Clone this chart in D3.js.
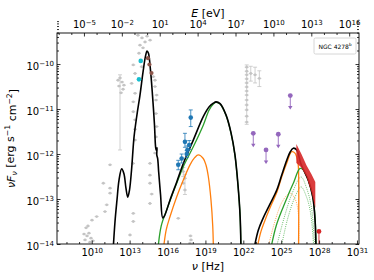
<!DOCTYPE html>
<html>
<head>
<meta charset="utf-8">
<script src="https://cdn.jsdelivr.net/npm/d3@7"></script>
<style>
  body { margin: 0; background: #fff; }
  svg { font-family: "DejaVu Sans", sans-serif; }
</style>
</head>
<body>
<svg id="chart" width="374" height="280"></svg>
<script>
// every value is log10: [log nu (Hz), log nuFnu (erg s^-1 cm^-2)]

// total model, synchrotron + SSC bump
const totalLow = [[11.68,-14.2],[11.84,-13.51],[12.0,-13.02],[12.16,-12.58],[12.37,-12.33],[12.55,-12.44],
  [12.71,-12.76],[12.85,-12.96],[12.99,-12.8],[13.15,-12.36],[13.35,-11.62],[13.58,-11.13],[13.82,-10.69],
  [14.06,-10.18],[14.26,-9.82],[14.38,-9.71],[14.49,-9.76],[14.65,-10.13],[14.81,-10.69],[14.97,-11.36],
  [15.06,-11.85],[15.12,-11.92],[15.17,-11.86],[15.15,-12.02],[15.22,-12.1],[15.3,-12.4],[15.45,-12.91],
  [15.62,-13.42],[15.75,-13.38],[16.2,-13.02],[16.73,-12.62],[17.25,-12.21],[18.04,-11.69],[18.83,-11.17],
  [19.3,-10.95],[19.63,-10.87],[19.84,-10.84],[20.16,-10.88],[20.63,-11.13],[21.03,-11.53],[21.34,-12.02],
  [21.58,-12.69],[21.75,-13.4],[21.82,-14.2]];
// total model, gamma-ray bump
const totalHigh = [[22.79,-14.2],[23.18,-13.7],[23.58,-13.42],[24.1,-13.12],[24.65,-12.8],[25.05,-12.46],
  [25.44,-12.14],[25.7,-11.96],[25.96,-11.87],[26.23,-11.91],[26.55,-12.21],[26.85,-12.4],[27.15,-12.58],
  [27.5,-12.95],[27.68,-13.47],[27.76,-14.2]];

const greenLow = [[15.21,-14.2],[15.5,-13.6],[15.94,-13.24],[16.35,-12.92],[16.73,-12.65],[17.25,-12.28],
  [18.04,-11.84],[18.83,-11.36],[19.3,-11.02],[19.63,-10.89],[19.84,-10.85],[20.16,-10.89],[20.63,-11.14],
  [21.03,-11.54],[21.34,-12.03],[21.58,-12.7],[21.75,-13.4],[21.81,-14.2]];
const orangeLow = [[15.64,-14.2],[15.9,-13.68],[16.2,-13.39],[16.73,-12.95],[17.25,-12.58],[17.78,-12.24],
  [18.15,-12.08],[18.44,-12.02],[18.83,-12.1],[19.05,-12.25],[19.23,-12.5],[19.44,-13.02],[19.58,-13.6],
  [19.64,-14.2]];

const orangeHigh = [[23.01,-14.2],[23.4,-13.72],[23.72,-13.47],[24.2,-13.14],[24.67,-12.84],[25.05,-12.5],
  [25.44,-12.2],[25.83,-11.95],[26.09,-11.98],[26.3,-12.15],[26.36,-12.28],[26.37,-14.2]];
const greenHigh = [[24.11,-14.2],[24.6,-13.6],[25.17,-13.17],[25.6,-12.88],[25.96,-12.65],[26.49,-12.32],
  [26.75,-12.35],[27.02,-12.5],[27.3,-12.72],[27.54,-13.02],[27.7,-13.5],[27.76,-14.2]];
const greenDotA = [[24.51,-14.2],[25.2,-13.45],[25.9,-12.85],[26.57,-12.51],[27.0,-12.75],[27.4,-13.2],[27.68,-14.2]];
const greenDotB = [[24.91,-14.2],[25.5,-13.45],[26.1,-12.95],[26.57,-12.73],[27.0,-12.95],[27.35,-13.35],[27.6,-14.2]];
const orangeDot = [[23.85,-14.2],[24.5,-13.5],[25.1,-13.05],[25.7,-12.87],[26.1,-13.0],[26.35,-13.3],[26.37,-14.2]];

// archival data (grey)
const archival = [[9.47,-13.91],[9.63,-13.82],[9.78,-13.76],[9.55,-13.64],[9.70,-13.6],[9.94,-13.87],[10.1,-13.93],
  [9.39,-13.78],[9.86,-13.96],[10.02,-13.47],[10.39,-13.39],[11.05,-13.28],[11.19,-13.13],[11.45,-12.87],
  [11.45,-12.76],[10.92,-12.65],[11.45,-12.24],
  [12.08,-10.36],[12.24,-10.31],[12.4,-10.4],[12.16,-10.49],[12.48,-10.56],[12.32,-10.64],[12.55,-10.47],
  [13.29,-10.02],[13.43,-10.21],[13.16,-10.43],[13.43,-10.65],[13.29,-10.84],[13.29,-11.06],[13.43,-11.24],
  [13.43,-11.45],[13.43,-11.69],[13.27,-12.21],[13.29,-13.32],[13.29,-13.5],[13.03,-13.8],
  [13.66,-9.36],[13.98,-9.42],[14.22,-9.51],[13.82,-9.58],[14.38,-9.38],[14.06,-9.64],[14.62,-9.47],
  [13.74,-9.76],[13.96,-10.06],
  [14.87,-10.28],[15.01,-10.5],[15.09,-10.8],[15.09,-11.1],[15.14,-11.39],[15.09,-11.62],[15.01,-11.98],
  [15.01,-10.36],[15.14,-10.69],
  [14.61,-12.21],[14.61,-12.47],[14.61,-12.65],[14.75,-12.89],[14.61,-13.1],
  [17.25,-12.39],[17.38,-12.54],[17.25,-12.65],[17.38,-12.8],[16.85,-13.43],[17.82,-13.82],[17.86,-13.91],[17.78,-13.98],
  [22.27,-10.07],[22.27,-10.16],[22.27,-10.24],[22.27,-10.33],[22.27,-10.42],[22.27,-10.51],[22.27,-10.6],
  [22.27,-10.69],[22.27,-10.8],[22.27,-10.91],[22.27,-11.02],[22.27,-11.16],[22.27,-11.29],
  [22.59,-10.21],[22.93,-10.24],[23.27,-10.32]];
// archival error bars: [log nu, low, high]
const archivalBars = [[12.24,-10.24,-11.91],[22.27,-10.02,-11.34],[22.59,-10.05,-10.38],[22.93,-10.07,-10.42],
  [23.27,-10.15,-10.5],[17.25,-12.3,-12.5],[17.38,-12.45,-12.9]];

// simultaneous data
const cyanPts = [[13.88,-9.93],[13.74,-10.34]];
const brownPts = [[14.45,-9.87],[14.57,-10.01],[14.73,-10.2]];
// [log nu, log flux, err low, err high]
const bluePts = [[17.84,-11.19,-11.39,-11.02],[17.38,-11.73,-11.85,-11.54],[17.72,-11.8,-11.9,-11.7],
  [17.57,-11.91,-12.0,-11.82],[17.52,-12.0,-12.08,-11.92],[17.12,-12.1,-12.2,-12.0],[16.85,-12.24,-12.35,-12.14]];
const purpleLimits = [[22.79,-11.54],[23.8,-11.91],[24.77,-11.56],[25.72,-10.7]];
const butterflyNu = [26.2, 26.6, 27.0, 27.4, 27.7];
const butterflyHi = [-11.78, -12.0, -12.25, -12.45, -12.62];
const butterflyLo = [-12.2, -12.3, -12.5, -12.85, -13.2];
const redPt = [[27.99,-13.72]];

const xMajorExp = [10, 13, 16, 19, 22, 25, 28, 31];
const eMajorExp = [-5, -2, 1, 4, 7, 10, 13, 16];
const yMajorExp = [-14, -13, -12, -11, -10];

class SedPlot {
  constructor() {
    this.svg = d3.select('#chart');
    this.margin = { top: 33, right: 15, bottom: 36, left: 57 };
    this.innerWidth = 374 - this.margin.left - this.margin.right;
    this.innerHeight = 280 - this.margin.top - this.margin.bottom;
    this.hPlanck = 4.135667e-15; // eV s
    this.c = { grey: '#c4c4c4', orange: '#ff7f0e', green: '#2ca02c', blue: '#1f77b4',
      cyan: '#17becf', brown: '#8c564b', purple: '#9467bd', red: '#d62728' };
  }

  draw = () => {
    this.setScales();
    this.g = this.svg.append('g').attr('transform', `translate(${this.margin.left},${this.margin.top})`);
    this.g.append('clipPath').attr('id', 'clip').append('rect')
      .attr('width', this.innerWidth).attr('height', this.innerHeight);
    this.plot = this.g.append('g').attr('clip-path', 'url(#clip)');
    this.drawArchival();
    this.drawModels();
    this.drawData();
    this.drawAxes();
    this.drawLabels();
    this.drawLegend();
  }

  setScales = () => {
    this.x = d3.scaleLog().domain([10 ** 7.25, 10 ** 31.16]).range([0, this.innerWidth]);
    this.y = d3.scaleLog().domain([1e-14, 10 ** -9.31]).range([this.innerHeight, 0]);
    this.xTop = d3.scaleLog().domain(this.x.domain().map(v => v * this.hPlanck)).range([0, this.innerWidth]);
    this.px = d => this.x(10 ** d);
    this.py = d => this.y(10 ** d);
  }

  line = (data, color, width, dash) => {
    const gen = d3.line().x(d => this.px(d[0])).y(d => this.py(d[1])).curve(d3.curveCatmullRom.alpha(0.5));
    this.plot.append('path').datum(data)
      .attr('d', gen).attr('fill', 'none').attr('stroke', color)
      .attr('stroke-width', width).attr('stroke-dasharray', dash || null)
      .attr('stroke-linejoin', 'round');
  }

  drawArchival = () => {
    this.plot.selectAll('.abar').data(archivalBars).join('line')
      .attr('x1', d => this.px(d[0])).attr('x2', d => this.px(d[0]))
      .attr('y1', d => this.py(d[1])).attr('y2', d => this.py(d[2]))
      .attr('stroke', this.c.grey).attr('stroke-width', 0.8);
    this.plot.selectAll('.acap').data(archivalBars.flatMap(d => [[d[0], d[1]], [d[0], d[2]]])).join('line')
      .attr('x1', d => this.px(d[0]) - 2).attr('x2', d => this.px(d[0]) + 2)
      .attr('y1', d => this.py(d[1])).attr('y2', d => this.py(d[1]))
      .attr('stroke', this.c.grey).attr('stroke-width', 0.8);
    const pts = this.plot.selectAll('.apt').data(archival).join('g')
      .attr('transform', d => `translate(${this.px(d[0])},${this.py(d[1])})`);
    pts.append('line').attr('x1', -2).attr('x2', 2).attr('stroke', this.c.grey).attr('stroke-width', 0.8);
    pts.append('circle').attr('r', 1.4).attr('fill', this.c.grey);
  }

  drawModels = () => {
    this.line(orangeDot, this.c.orange, 0.7, '1,1.2');
    this.line(greenDotB, this.c.green, 0.7, '1,1.2');
    this.line(greenDotA, this.c.green, 0.7, '1,1.2');
    this.line(orangeLow, this.c.orange, 1.3);
    this.line(greenLow, this.c.green, 1.3);
    this.line(orangeHigh, this.c.orange, 1.3);
    this.line(greenHigh, this.c.green, 1.3);
    this.line(totalLow, '#000', 1.6);
    this.line(totalHigh, '#000', 1.6);
  }

  drawData = () => {
    // Fermi-LAT butterfly
    const area = d3.area().x(d => this.px(d.nu)).y0(d => this.py(d.lo)).y1(d => this.py(d.hi));
    const bow = butterflyNu.map((nu, i) => ({ nu, lo: butterflyLo[i], hi: butterflyHi[i] }));
    this.plot.append('path').datum(bow).attr('d', area).attr('fill', this.c.red).attr('opacity', 0.9);

    // red point with bar down out of the frame
    this.plot.selectAll('.rbar').data(redPt).join('line')
      .attr('x1', d => this.px(d[0])).attr('x2', d => this.px(d[0]))
      .attr('y1', d => this.py(d[1])).attr('y2', this.innerHeight + 2)
      .attr('stroke', this.c.red).attr('stroke-width', 0.9);
    this.plot.selectAll('.rpt').data(redPt).join('circle')
      .attr('cx', d => this.px(d[0])).attr('cy', d => this.py(d[1])).attr('r', 2.4).attr('fill', this.c.red);

    // blue X-ray points with error bars
    this.plot.selectAll('.bbar').data(bluePts).join('line')
      .attr('x1', d => this.px(d[0])).attr('x2', d => this.px(d[0]))
      .attr('y1', d => this.py(d[2])).attr('y2', d => this.py(d[3]))
      .attr('stroke', this.c.blue).attr('stroke-width', 0.8);
    this.plot.selectAll('.bcap').data(bluePts.flatMap(d => [[d[0], d[2]], [d[0], d[3]]])).join('line')
      .attr('x1', d => this.px(d[0]) - 2).attr('x2', d => this.px(d[0]) + 2)
      .attr('y1', d => this.py(d[1])).attr('y2', d => this.py(d[1]))
      .attr('stroke', this.c.blue).attr('stroke-width', 0.8);
    this.plot.selectAll('.bpt').data(bluePts).join('circle')
      .attr('cx', d => this.px(d[0])).attr('cy', d => this.py(d[1])).attr('r', 2.3).attr('fill', this.c.blue);

    this.plot.selectAll('.cpt').data(cyanPts).join('circle')
      .attr('cx', d => this.px(d[0])).attr('cy', d => this.py(d[1])).attr('r', 2.3).attr('fill', this.c.cyan);
    this.plot.selectAll('.brpt').data(brownPts).join('circle')
      .attr('cx', d => this.px(d[0])).attr('cy', d => this.py(d[1])).attr('r', 2.1).attr('fill', this.c.brown);

    // purple upper limits
    const ul = this.plot.selectAll('.ul').data(purpleLimits).join('g')
      .attr('transform', d => `translate(${this.px(d[0])},${this.py(d[1])})`);
    ul.append('line').attr('y2', 12).attr('stroke', this.c.purple).attr('stroke-width', 0.9);
    ul.append('path').attr('d', 'M-2.2,10.5L2.2,10.5L0,14Z').attr('fill', this.c.purple);
    ul.append('circle').attr('r', 2.4).attr('fill', this.c.purple);
  }

  supLabel = (sel, exp) => {
    sel.text(null);
    sel.append('tspan').text('10');
    sel.append('tspan').attr('dy', '-0.5em').attr('font-size', '0.7em').text(String(exp).replace('-', '\u2212'));
  }

  drawAxes = () => {
    const minorX = d3.range(8, 32).map(e => 10 ** e).filter(v => !xMajorExp.includes(Math.round(Math.log10(v))));
    const minorE = d3.range(-7, 17).map(e => 10 ** e).filter(v => !eMajorExp.includes(Math.round(Math.log10(v))));
    const minorY = [];
    [-14, -13, -12, -11, -10].forEach(e => d3.range(2, 10).forEach(k => minorY.push(k * 10 ** e)));

    const styleAxis = g => {
      g.select('.domain').remove();
      g.selectAll('.tick line').attr('stroke', '#000').attr('stroke-width', 0.8);
      g.selectAll('text').attr('font-size', 10).attr('fill', '#000').attr('font-family', '"DejaVu Sans", sans-serif');
    };

    // bottom
    this.g.append('g').attr('transform', `translate(0,${this.innerHeight})`)
      .call(d3.axisBottom(this.x).tickValues(minorX).tickSize(-2).tickFormat(''))
      .call(styleAxis);
    const bx = this.g.append('g').attr('transform', `translate(0,${this.innerHeight})`)
      .call(d3.axisBottom(this.x).tickValues(xMajorExp.map(e => 10 ** e)).tickSize(-3.5).tickPadding(5))
      .call(styleAxis);
    bx.selectAll('.tick text').each((d, i, n) => this.supLabel(d3.select(n[i]), xMajorExp[i]));

    // top (energy)
    this.g.append('g')
      .call(d3.axisTop(this.xTop).tickValues(minorE).tickSize(-2).tickFormat(''))
      .call(styleAxis);
    const tx = this.g.append('g')
      .call(d3.axisTop(this.xTop).tickValues(eMajorExp.map(e => 10 ** e)).tickSize(-3.5).tickPadding(5))
      .call(styleAxis);
    tx.selectAll('.tick text').each((d, i, n) => this.supLabel(d3.select(n[i]), eMajorExp[i]));

    // left
    this.g.append('g')
      .call(d3.axisLeft(this.y).tickValues(minorY).tickSize(-2).tickFormat(''))
      .call(styleAxis);
    const ly = this.g.append('g')
      .call(d3.axisLeft(this.y).tickValues(yMajorExp.map(e => 10 ** e)).tickSize(-3.5).tickPadding(3))
      .call(styleAxis);
    ly.selectAll('.tick text').attr('dy', '0.5em').each((d, i, n) => this.supLabel(d3.select(n[i]), yMajorExp[i]));

    // right (no labels)
    this.g.append('g').attr('transform', `translate(${this.innerWidth},0)`)
      .call(d3.axisRight(this.y).tickValues(minorY).tickSize(-2).tickFormat(''))
      .call(styleAxis);
    this.g.append('g').attr('transform', `translate(${this.innerWidth},0)`)
      .call(d3.axisRight(this.y).tickValues(yMajorExp.map(e => 10 ** e)).tickSize(-3.5).tickFormat(''))
      .call(styleAxis);

    this.g.append('rect').attr('width', this.innerWidth).attr('height', this.innerHeight)
      .attr('fill', 'none').attr('stroke', '#000').attr('stroke-width', 0.9);
  }

  drawLabels = () => {
    const cx = this.margin.left + this.innerWidth / 2;
    const top = this.svg.append('text').attr('x', cx).attr('y', 17).attr('text-anchor', 'middle')
      .attr('font-size', 11);
    top.append('tspan').attr('font-style', 'italic').text('E');
    top.append('tspan').text(' [eV]');

    const bottom = this.svg.append('text').attr('x', cx).attr('y', 270).attr('text-anchor', 'middle')
      .attr('font-size', 11);
    bottom.append('tspan').attr('font-style', 'italic').text('ν');
    bottom.append('tspan').text(' [Hz]');

    const yl = this.svg.append('text')
      .attr('transform', `translate(15,${this.margin.top + this.innerHeight / 2}) rotate(-90)`)
      .attr('text-anchor', 'middle').attr('font-size', 11);
    yl.append('tspan').attr('font-style', 'italic').text('νF');
    yl.append('tspan').attr('font-style', 'italic').attr('font-size', '0.7em').attr('dy', '0.3em').text('ν');
    yl.append('tspan').attr('dy', '-0.3em').text(' [erg s');
    yl.append('tspan').attr('font-size', '0.7em').attr('dy', '-0.5em').text('\u22121');
    yl.append('tspan').attr('dy', '0.5em').text(' cm');
    yl.append('tspan').attr('font-size', '0.7em').attr('dy', '-0.5em').text('\u22122');
    yl.append('tspan').attr('dy', '0.5em').text(']');
  }

  drawLegend = () => {
    const lg = this.g.append('g').attr('transform', `translate(${this.innerWidth - 45},5)`);
    lg.append('rect').attr('width', 42).attr('height', 16).attr('rx', 1.5)
      .attr('fill', '#fff').attr('stroke', '#ccc').attr('stroke-width', 0.8);
    const t = lg.append('text').attr('x', 21).attr('y', 10.5).attr('text-anchor', 'middle').attr('font-size', 6);
    t.append('tspan').text('NGC 4278');
    t.append('tspan').attr('font-size', '0.7em').attr('dy', '-0.5em').text('b');
  }
}

new SedPlot().draw();
</script>
</body>
</html>
